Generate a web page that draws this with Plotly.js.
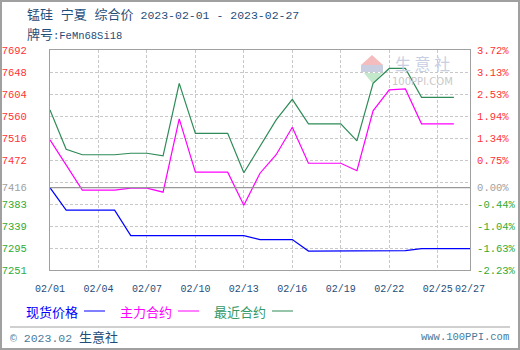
<!DOCTYPE html>
<html>
<head>
<meta charset="utf-8">
<script src="https://cdn.plot.ly/plotly-3.0.1.min.js"></script>
<style>
html,body{margin:0;padding:0;background:#fff;}
#wrap{position:relative;width:520px;height:350px;}
#chart{position:absolute;left:0;top:0;width:520px;height:350px;}
#frame{position:absolute;left:0;top:0;width:520px;height:350px;box-sizing:border-box;border:2px solid #a0a0a0;pointer-events:none;}
</style>
</head>
<body>
<div id="wrap"><div id="chart"></div><div id="frame"></div></div>
<script>
// ---- data ----
const dates = ['2023-02-01','2023-02-02','2023-02-03','2023-02-04','2023-02-05','2023-02-06','2023-02-07','2023-02-08','2023-02-09','2023-02-10','2023-02-11','2023-02-12','2023-02-13','2023-02-14','2023-02-15','2023-02-16','2023-02-17','2023-02-18','2023-02-19','2023-02-20','2023-02-21','2023-02-22','2023-02-23','2023-02-24','2023-02-25','2023-02-26','2023-02-27'];
const spotPrice = [7416,7371,7371,7371,7371,7320,7320,7320,7320,7320,7320,7320,7320,7312,7312,7312,7289,7289,7289,7289,7289,7290,7290,7294,7294,7294,7294];
const mainContract = [7512,7462,7411,7411,7411,7415,7415,7407,7554,7447,7447,7447,7381,7445,7482,7537,7465,7465,7465,7450,7570,7612,7614,7544,7544,7544];
const nearContract = [7572,7493,7482,7482,7482,7485,7485,7480,7625,7525,7525,7525,7446,7498,7552,7593,7544,7544,7544,7510,7625,7655,7655,7597,7597,7597];
const seriesNames = ['现货价格','主力合约','最近合约'];
const basePrice = 7416;
const yMin = 7251, yMax = 7692;
const xTickVals = ['2023-02-01','2023-02-04','2023-02-07','2023-02-10','2023-02-13','2023-02-16','2023-02-19','2023-02-22','2023-02-25','2023-02-27'];
const xTickText = ['02/01','02/04','02/07','02/10','02/13','02/16','02/19','02/22','02/25','02/27'];
const yTickVals = [7692,7647.9,7603.8,7559.7,7515.6,7471.5,7427.4,7416,7383.3,7339.2,7295.1,7251];
const yTickText = ['7692','7648','7604','7560','7516','7472','','7416','7383','7339','7295','7251'];
const pctTickText = ['3.72%','3.13%','2.53%','1.94%','1.34%','0.75%','','0.00%','-0.44%','-1.04%','-1.63%','-2.23%'];

const RED='#ff3333', GREEN='#33aa33', GRAY='#a0a0a0';
function colorFor(v){ return v>basePrice?RED:(v<basePrice?GREEN:GRAY); }
const yTT = yTickText.map((t,i)=>t?`<span style="color:${colorFor(yTickVals[i])}">${t}</span>`:'');
const pTT = pctTickText.map((t,i)=>t?`<span style="color:${colorFor(yTickVals[i])}">${t}</span>`:'');

const colors = ['#0000ff','#ff00ff','#2e8b57'];
const traces = [
  {x:dates.slice(0,spotPrice.length), y:spotPrice, name:seriesNames[0], type:'scatter', mode:'lines', line:{color:colors[0],width:1.2}},
  {x:dates.slice(0,mainContract.length), y:mainContract, name:seriesNames[1], type:'scatter', mode:'lines', line:{color:colors[1],width:1.2}},
  {x:dates.slice(0,nearContract.length), y:nearContract, name:seriesNames[2], type:'scatter', mode:'lines', line:{color:colors[2],width:1.2}, yaxis:'y2'}
];

const MONO = "'Liberation Mono','Noto Sans CJK SC',monospace";
const CJK = "'Noto Sans CJK SC','Liberation Mono',sans-serif";
const TXT = '#1f4e79';
// helpers: pixel -> paper
const px = x => (x-50)/420, py = y => (270-y)/220;

const annotations = [
  {xref:'paper',yref:'paper',x:px(25),y:py(15),xanchor:'left',yanchor:'middle',showarrow:false,
   text:'<span style="font-size:13px">锰硅 宁夏 综合价</span> 2023-02-01 - 2023-02-27',
   font:{family:MONO,size:11.5,color:TXT}},
  {xref:'paper',yref:'paper',x:px(25),y:py(35),xanchor:'left',yanchor:'middle',showarrow:false,
   text:'<span style="font-size:13px">牌号</span>:FeMn68Si18',
   font:{family:MONO,size:10.5,color:TXT}},
  // legend
  {xref:'paper',yref:'paper',x:px(24),y:py(311),xanchor:'left',yanchor:'middle',showarrow:false,text:seriesNames[0],font:{family:CJK,size:13,color:colors[0]}},
  {xref:'paper',yref:'paper',x:px(118),y:py(311),xanchor:'left',yanchor:'middle',showarrow:false,text:seriesNames[1],font:{family:CJK,size:13,color:colors[1]}},
  {xref:'paper',yref:'paper',x:px(212),y:py(311),xanchor:'left',yanchor:'middle',showarrow:false,text:seriesNames[2],font:{family:CJK,size:13,color:'#339966'}},
  // footer
  {xref:'paper',yref:'paper',x:px(8),y:py(336),xanchor:'left',yanchor:'middle',showarrow:false,
   text:'© 2023.02 <span style="font-family:\'Noto Sans CJK SC\';font-size:13px;color:#1f4e79">生意社</span>',
   font:{family:MONO,size:11.5,color:'#4a7a9a'}},
  {xref:'paper',yref:'paper',x:px(511),y:py(337),xanchor:'right',yanchor:'middle',showarrow:false,
   text:'www.100PPI.com',font:{family:MONO,size:10.5,color:'#4a7a9a'}},
  // watermark
  {xref:'paper',yref:'paper',x:px(422),y:py(63),xanchor:'center',yanchor:'middle',showarrow:false,
   text:'生 意 社',font:{family:CJK,size:16,color:'#c9cfe2'}},
  {xref:'paper',yref:'paper',x:px(422),y:py(81),xanchor:'center',yanchor:'middle',showarrow:false,
   text:'100PPI.COM',font:{family:"'DejaVu Sans',sans-serif",size:10,color:'#c8c8c8'}}
];

function seg(x0,x1,y,color){return {type:'line',xref:'paper',yref:'paper',x0:px(x0),x1:px(x1),y0:py(y),y1:py(y),line:{color:color,width:1}};}
function poly(pts,fill){return {type:'path',xref:'paper',yref:'paper',path:'M'+pts.map(p=>px(p[0])+','+py(p[1])).join(' L')+' Z',fillcolor:fill,line:{width:0},layer:'below'};}

const shapes = [
  {type:'line',xref:'paper',yref:'y',x0:0,x1:1,y0:basePrice,y1:basePrice,line:{color:'#999999',width:1.3}},
  seg(84,105,311,colors[0]), seg(178,199,311,colors[1]), seg(272,293,311,colors[2]),
  seg(10,510,327,'#a0a0a0'),
  poly([[361,65],[372,55],[383,65]],'#f4bcbc'),
  poly([[361,65],[383,65],[383,72],[361,72]],'#c9cfe0'),
  poly([[364,73],[382,73],[373,84]],'#c4e8cc')
];

const layout = {
  width:520,height:350,
  margin:{l:50,r:50,t:50,b:80,pad:0},
  paper_bgcolor:'#ffffff',plot_bgcolor:'#ffffff',
  showlegend:false,
  xaxis:{type:'date',range:['2023-02-01','2023-02-27'],tickmode:'array',tickvals:xTickVals,ticktext:xTickText,tickangle:0,
    showgrid:true,gridcolor:'#c8c8c8',griddash:'3px,2px',gridwidth:1,
    showline:true,mirror:true,linecolor:'#a0a0a0',linewidth:1,ticks:'outside',ticklen:9,tickcolor:'rgba(0,0,0,0)',
    tickfont:{family:MONO,size:10,color:TXT},zeroline:false,fixedrange:true},
  yaxis:{range:[yMin,yMax],tickmode:'array',tickvals:yTickVals,ticktext:yTT,
    showgrid:true,gridcolor:'#c8c8c8',griddash:'3px,2px',gridwidth:1,
    showline:true,mirror:true,linecolor:'#a0a0a0',linewidth:1,ticks:'outside',ticklen:20,tickcolor:'rgba(0,0,0,0)',
    tickfont:{family:MONO,size:10.5,color:TXT},zeroline:false,fixedrange:true},
  yaxis2:{overlaying:'y',side:'right',range:[yMin,yMax],tickmode:'array',tickvals:yTickVals,ticktext:pTT,
    showgrid:false,showline:false,ticks:'outside',ticklen:4,tickcolor:'rgba(0,0,0,0)',
    tickfont:{family:MONO,size:10.5,color:TXT},zeroline:false,fixedrange:true},
  annotations:annotations,
  shapes:shapes
};
Plotly.newPlot('chart',traces,layout,{staticPlot:true,displayModeBar:false});
</script>
</body>
</html>
